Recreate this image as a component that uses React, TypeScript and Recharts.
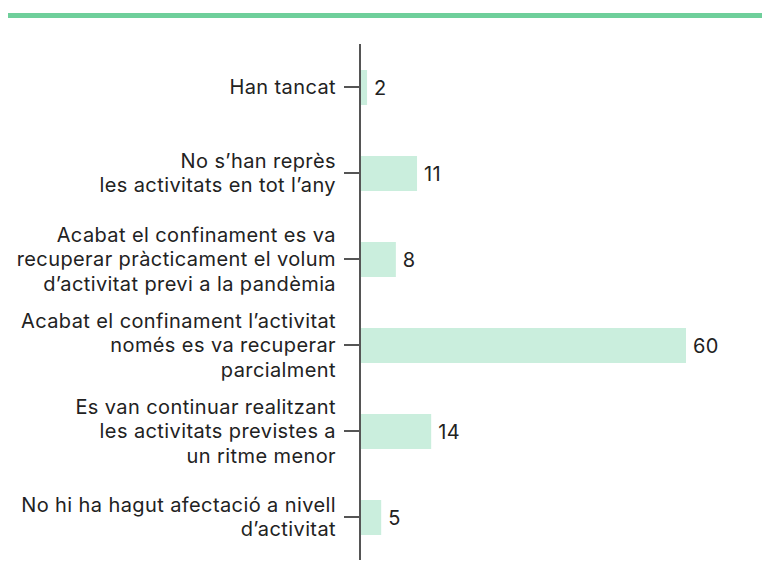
import { BarChart, Bar, XAxis, YAxis, LabelList } from "recharts";

// answers (line breaks as in the original figure)
const categories = [
  "Han tancat",
  "No s’han reprès\nles activitats en tot l’any",
  "Acabat el confinament es va\nrecuperar pràcticament el volum\nd’activitat previ a la pandèmia",
  "Acabat el confinament l’activitat\nnomés es va recuperar\nparcialment",
  "Es van continuar realitzant\nles activitats previstes a\nun ritme menor",
  "No hi ha hagut afectació a nivell\nd’activitat",
];

// bar lengths (%)
const values = [1.3, 10.5, 6.6, 60, 13.1, 3.9];
// rounded figures printed next to the bars
const shownValues = ["2", "11", "8", "60", "14", "5"];

const data = categories.map((name, i) => ({
  name,
  value: values[i],
  shown: shownValues[i],
}));

const FONT = "Inter, 'DejaVu Sans', sans-serif";
const FONT_SIZE = 20;
const LETTER = 0.4;
const LINE_H = 24.5;
const TEXT = "#222222";

function MultiLineTick(props: any) {
  const { x, y, payload } = props;
  const lines = String(payload.value).split("\n");
  const n = lines.length;
  return (
    <text
      x={x}
      y={y}
      textAnchor="end"
      fill={TEXT}
      fontSize={FONT_SIZE}
      fontFamily={FONT}
      letterSpacing={LETTER}
    >
      {lines.map((l, i) => (
        <tspan key={i} x={x} y={y + (i - (n - 1) / 2) * LINE_H} dy="0.36em">
          {l}
        </tspan>
      ))}
    </text>
  );
}

export default function App() {
  return (
    <div
      style={{
        position: "absolute",
        left: 0,
        top: 0,
        width: 762,
        height: 577,
        background: "#fff",
      }}
    >
      <div
        style={{
          position: "absolute",
          left: 8,
          top: 13,
          width: 754,
          height: 5,
          background: "#6fcf9b",
        }}
      />
      <BarChart
        width={762}
        height={577}
        data={data}
        layout="vertical"
        margin={{ top: 44, right: 76, bottom: 17, left: 0 }}
      >
        <XAxis type="number" domain={[0, 60]} hide />
        <YAxis
          type="category"
          dataKey="name"
          width={360}
          interval={0}
          tickSize={16}
          tickMargin={8}
          axisLine={{ stroke: "#555", strokeWidth: 2 }}
          tickLine={{ stroke: "#555", strokeWidth: 2 }}
          tick={<MultiLineTick />}
        />
        <Bar dataKey="value" fill="#caeedd" barSize={35} isAnimationActive={false}>
          <LabelList
            dataKey="shown"
            position="right"
            offset={7}
            fill={TEXT}
            fontSize={FONT_SIZE}
            fontFamily={FONT}
            letterSpacing={LETTER}
          />
        </Bar>
      </BarChart>
    </div>
  );
}
